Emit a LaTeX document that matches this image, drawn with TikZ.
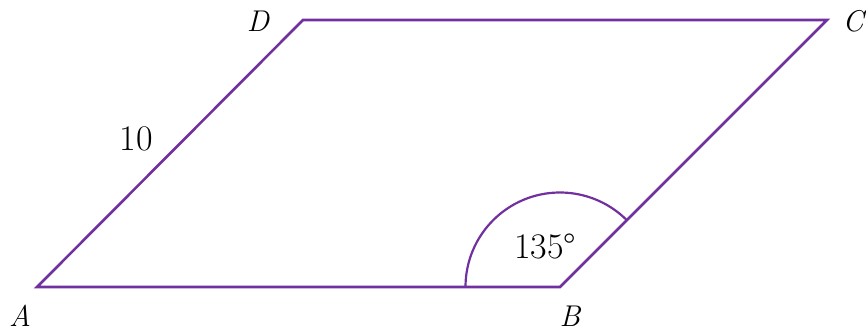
\documentclass[tikz,border=0pt]{standalone}
\usepackage{fontspec}
\definecolor{edgepurple}{HTML}{7030A0}
\tikzset{
  edge/.style={draw=edgepurple, line width=2.6pt, line join=miter},
  lbl/.style={font=\fontsize{30}{36}\selectfont\itshape, inner sep=0pt},
  num/.style={font=\fontsize{36}{42}\selectfont, inner sep=0pt},
}
\begin{document}
\begin{tikzpicture}[x=1pt,y=-1pt]
\useasboundingbox (0,0) rectangle (866,332);
\coordinate (A) at (37,287);
\coordinate (B) at (560,287);
\coordinate (C) at (827,20);
\coordinate (D) at (303,20);
\draw[edge] (A) -- (B) -- (C) -- (D) -- cycle;
\draw[edgepurple, line width=2.2pt] ([xshift=-94.5pt]B) arc[start angle=180, end angle=45, radius=94.5pt];
\node[lbl] (la) at (20,316) {A};
\node[lbl] (lb) at (570,316) {B};
\node[lbl] (lc) at (853,21) {C};
\node[lbl] (ld) at (258,21) {D};
\node[num] (l10) at (136,139) {10};
\node[num] (lang) at (545,246) {135°};
\end{tikzpicture}
\end{document}
